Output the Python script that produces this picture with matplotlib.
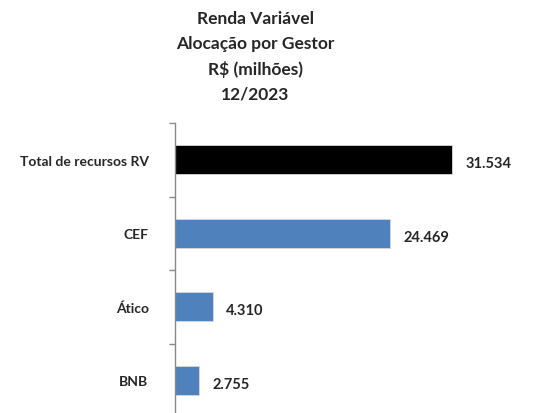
import matplotlib.pyplot as plt
import numpy as np

# data
gestores = ['Total de recursos RV', 'CEF', 'Ático', 'BNB']
valores = [31534, 24469, 4310, 2755]
rotulos = ['31.534', '24.469', '4.310', '2.755']
cores = ['#000000', '#4F81BD', '#4F81BD', '#4F81BD']

plt.rcParams['font.family'] = ['Lato', 'DejaVu Sans']

fig = plt.figure(figsize=(5.55, 4.14), dpi=100)
# axis runs past the bottom edge, like the cropped original
ax = fig.add_axes([175 / 555, -4 / 414, 1 - 175 / 555, 294 / 414])

y = np.arange(len(gestores))
ax.barh(y, valores, height=0.4, color=cores, edgecolor='#d9d9d9', linewidth=0.6)

for yi, v, txt in zip(y, valores, rotulos):
    ax.text(v + 1500, yi + 0.05, txt, va='center', ha='left',
            fontsize=10.5, fontweight='bold', color='#262626')

ax.set_ylim(3.5, -0.5)
ax.set_xlim(0, 31534 * 380 / 277)
ax.set_yticks(y)
ax.set_yticklabels(gestores, fontsize=10, fontweight='bold', color='#262626')
ax.tick_params(axis='y', which='major', length=0, pad=19)
ax.set_yticks(np.arange(-0.5, 4, 1), minor=True)
ax.tick_params(axis='y', which='minor', length=4, color='#888888', width=1)
ax.set_xticks([])

for s in ['top', 'right', 'bottom']:
    ax.spines[s].set_visible(False)
ax.spines['left'].set_color('#888888')
ax.spines['left'].set_linewidth(1)

fig.text(0.46, 0.974, 'Renda Variável\nAlocação por Gestor\nR$ (milhões)\n12/2023',
         ha='center', va='top', fontsize=12.5, fontweight='bold',
         color='#262626', linespacing=1.68)

fig.savefig('out.png', dpi=100)
